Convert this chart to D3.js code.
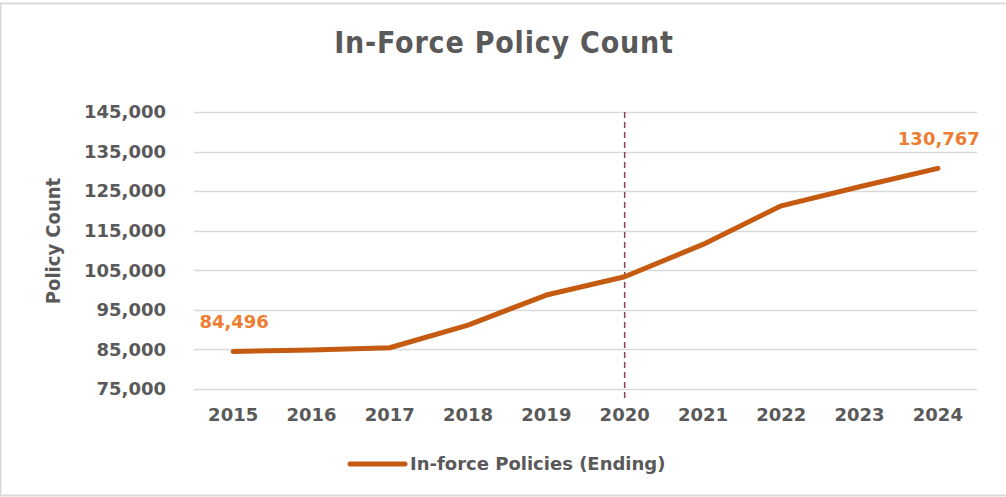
<!DOCTYPE html>
<html lang="en">
<head>
    <meta charset="UTF-8">
    <title>In-Force Policy Count</title>
    <script src="https://d3js.org/d3.v7.min.js"></script>
    <style>
        html, body {
            margin: 0;
            background: #fff;
        }
        #vis {
            width: 1006px;
            height: 497px;
        }
        .narrow {
            font-family: "Liberation Sans Narrow", "DejaVu Sans Condensed", "Roboto Condensed", sans-serif;
            font-weight: bold;
        }
    </style>
</head>
<body>
<div id="vis"></div>
<script type="text/javascript">
var years = ['2015', '2016', '2017', '2018', '2019', '2020', '2021', '2022', '2023', '2024'];
var policies = [84496, 84850, 85430, 91160, 98740, 103360, 111540, 121290, 126100, 130767];
var y_ticks = [75000, 85000, 95000, 105000, 115000, 125000, 135000, 145000];
var marker_year = '2020';
var series_name = 'In-force Policies (Ending)';

var width = 1006, height = 497;
var margin = { top: 112, bottom: 108, left: 194, right: 29 };
var inner_w = width - margin.left - margin.right;
var inner_h = height - margin.top - margin.bottom;

var grey = '#595959';
var line_colour = '#C55A11';
var label_colour = '#ED7D31';

var svg = d3.select('#vis')
    .append('svg')
    .attr('width', width)
    .attr('height', height);

// frame
svg.append('rect')
    .attr('x', 0.5)
    .attr('y', 3.5)
    .attr('width', width + 5)
    .attr('height', 492)
    .attr('fill', 'none')
    .attr('stroke', '#d9d9d9')
    .attr('stroke-width', 2);

svg.append('text')
    .attr('class', 'narrow')
    .attr('x', 504)
    .attr('y', 53)
    .attr('text-anchor', 'middle')
    .attr('fill', grey)
    .style('font-size', '30px')
    .style('letter-spacing', '0.8px')
    .text('In-Force Policy Count');

var g = svg.append('g')
    .attr('transform', 'translate(' + margin.left + ',' + margin.top + ')');

var x_scale = d3.scaleBand()
    .domain(years)
    .range([0, inner_w]);

var y_scale = d3.scaleLinear()
    .domain([75000, 145000])
    .range([inner_h, 0]);

// gridlines
g.append('g')
    .selectAll('line')
    .data(y_ticks)
    .enter()
    .append('line')
    .attr('x1', 0)
    .attr('x2', inner_w)
    .attr('y1', function(d) { return Math.round(y_scale(d)) + 0.5; })
    .attr('y2', function(d) { return Math.round(y_scale(d)) + 0.5; })
    .attr('stroke', '#d9d9d9')
    .attr('stroke-width', 1.5);

var y_axis = d3.axisLeft(y_scale)
    .tickValues(y_ticks)
    .tickFormat(d3.format(','))
    .tickSize(0)
    .tickPadding(28);

var x_axis = d3.axisBottom(x_scale)
    .tickSize(0)
    .tickPadding(19);

var ya = g.append('g').call(y_axis);
var xa = g.append('g')
    .attr('transform', 'translate(0,' + inner_h + ')')
    .call(x_axis);

[ya, xa].forEach(function(a) {
    a.select('.domain').remove();
    a.selectAll('text')
        .attr('fill', grey)
        .style('font-family', '"DejaVu Sans", sans-serif')
        .style('font-weight', 'bold')
        .style('font-size', '18px');
});

// 2020 marker
var mx = x_scale(marker_year) + x_scale.bandwidth() / 2;
g.append('line')
    .attr('x1', mx)
    .attr('x2', mx)
    .attr('y1', 0)
    .attr('y2', inner_h + 9)
    .attr('stroke', '#8E3F55')
    .attr('stroke-width', 1.5)
    .attr('stroke-dasharray', '6,4');

var line = d3.line()
    .x(function(d, i) { return x_scale(years[i]) + x_scale.bandwidth() / 2; })
    .y(function(d) { return y_scale(d); });

g.append('path')
    .datum(policies)
    .attr('d', line)
    .attr('fill', 'none')
    .attr('stroke', line_colour)
    .attr('stroke-width', 5)
    .attr('stroke-linecap', 'round')
    .attr('stroke-linejoin', 'round');

// first and last value labels
[0, policies.length - 1].forEach(function(i) {
    g.append('text')
        .attr('x', x_scale(years[i]) + x_scale.bandwidth() / 2 + 1)
        .attr('y', y_scale(policies[i]) - 23)
        .attr('text-anchor', 'middle')
        .attr('fill', label_colour)
        .style('font-family', '"DejaVu Sans", sans-serif')
        .style('font-weight', 'bold')
        .style('font-size', '18px')
        .text(d3.format(',')(policies[i]));
});

// y title
svg.append('text')
    .attr('class', 'narrow')
    .attr('transform', 'translate(60,241) rotate(-90)')
    .attr('text-anchor', 'middle')
    .attr('fill', grey)
    .style('font-size', '20px')
    .text('Policy Count');

// legend
var legend = svg.append('g')
    .attr('transform', 'translate(350,464)');
legend.append('line')
    .attr('x1', 0)
    .attr('x2', 55)
    .attr('stroke', line_colour)
    .attr('stroke-width', 5)
    .attr('stroke-linecap', 'round');
legend.append('text')
    .attr('x', 60)
    .attr('y', 6)
    .attr('fill', grey)
    .style('font-family', '"DejaVu Sans", sans-serif')
    .style('font-weight', 'bold')
    .style('font-size', '18px')
    .text(series_name);
</script>
</body>
</html>
